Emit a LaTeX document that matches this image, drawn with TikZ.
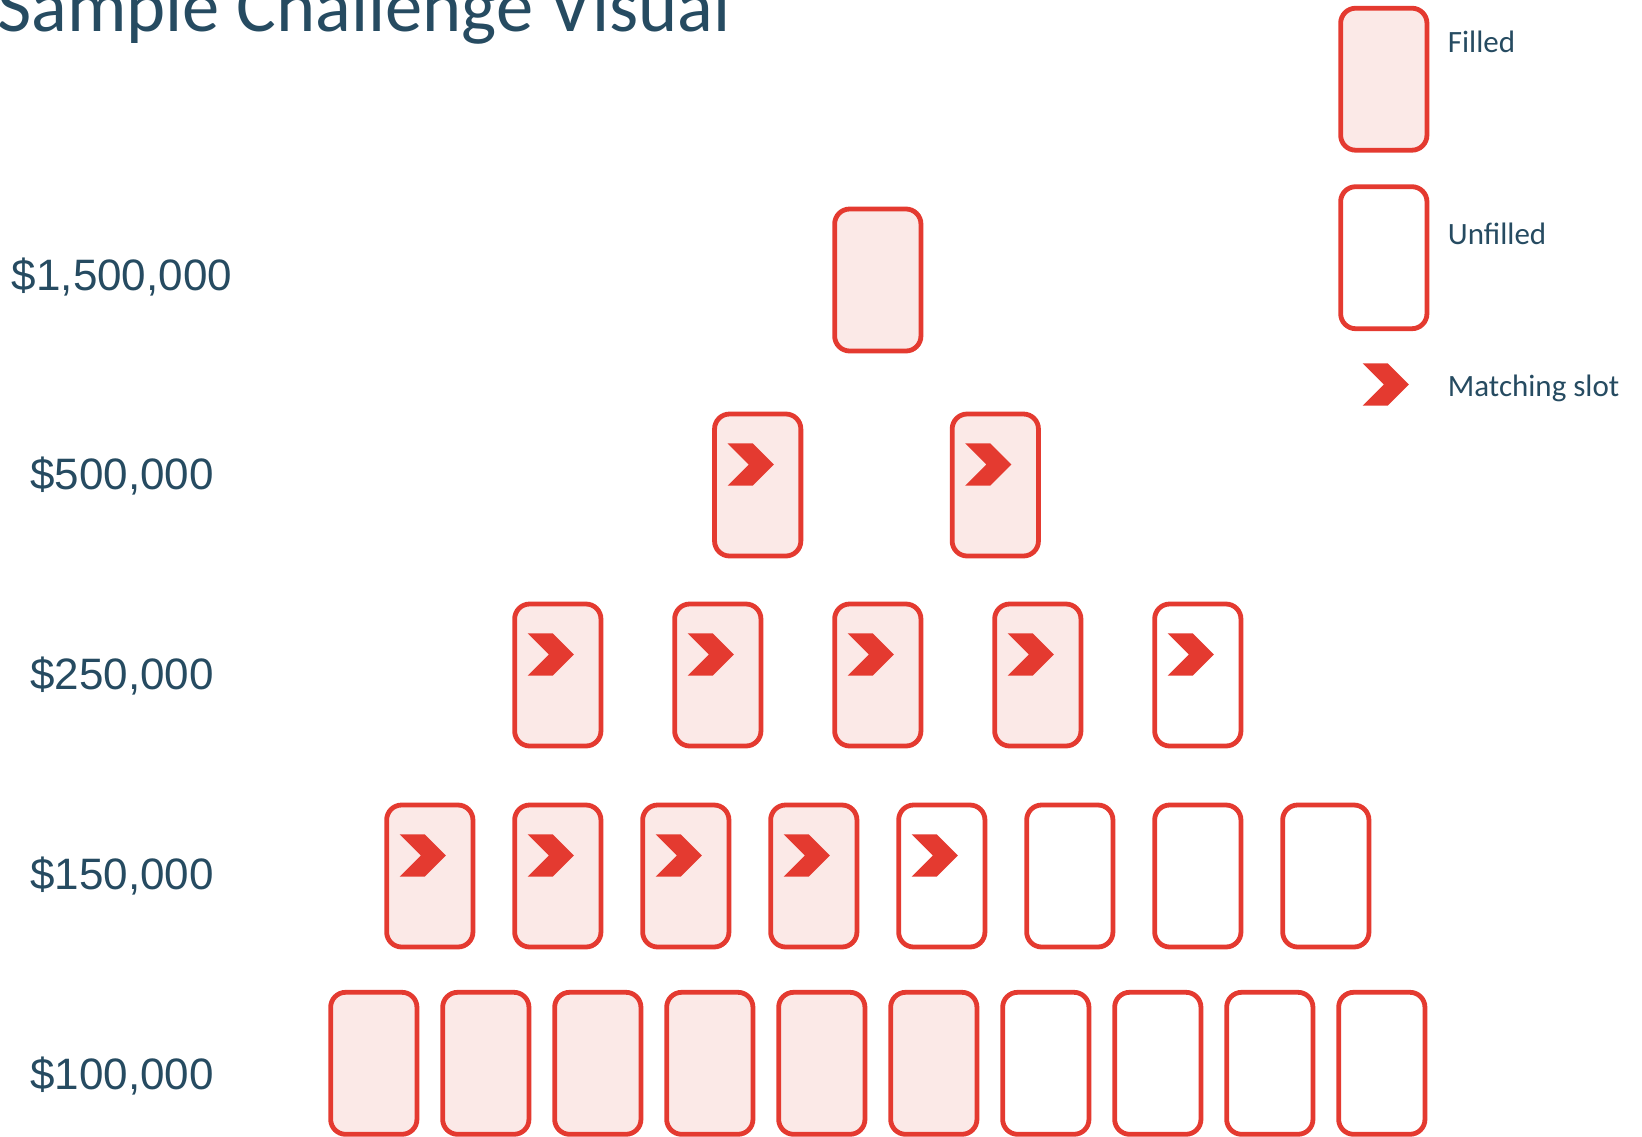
\documentclass[tikz,border=0pt]{standalone}
\usepackage{fontspec}
\setmainfont{Carlito}
\newfontfamily\labelfont{Liberation Sans}
\usetikzlibrary{shapes,positioning}

\definecolor{slotRed}{RGB}{228,58,48}
\definecolor{slotFill}{RGB}{251,233,231}
\definecolor{inkBlue}{RGB}{38,75,97}

\begin{document}
\begin{tikzpicture}[
    x=1pt, y=-1pt,
    font=\fontsize{31}{36}\selectfont,
    cardFilled/.style={
        rectangle, rounded corners=15pt, draw=slotRed, line width=4.8pt,
        fill=slotFill, minimum width=86.3pt, minimum height=142pt,
        inner sep=0pt, outer sep=0pt
    },
    cardEmpty/.style={cardFilled, fill=white},
    matchNode/.style={
        signal, signal from=west, signal to=east, fill=slotRed,
        minimum width=46.3pt, minimum height=42.4pt, inner sep=0pt, outer sep=0pt,
        xshift=-7pt, yshift=20.5pt
    },
    tierLabel/.style={
        anchor=base, text=inkBlue, inner sep=0pt,
        font=\labelfont\fontsize{44}{52}\selectfont
    },
    legendText/.style={anchor=base west, text=inkBlue, inner sep=0pt}
]
\useasboundingbox (0,0) rectangle (1642,1136);

% Title
\node[anchor=base west, inner sep=0pt, text=inkBlue, font=\fontsize{74.5}{80}\selectfont] (title) at (-3,31) {Sample Challenge Visual};

% Tier labels
\node[tierLabel] (lab1500) at (122,290) {\$1,500,000};
\node[tierLabel] (lab500) at (122,489.8) {\$500,000};
\node[tierLabel] (lab250) at (122,689.6) {\$250,000};
\node[tierLabel] (lab150) at (122,889.4) {\$150,000};
\node[tierLabel] (lab100) at (122,1089.2) {\$100,000};

% $1,500,000 tier
\node[cardFilled] (r1500) at (877.8,280) {};

% $500,000 tier
\node[cardFilled] (r500a) at (757.7,485) {};
\node[cardFilled, right=151.3pt of r500a] (r500b) {};
\node[matchNode] (m500a) at (r500a) {};
\node[matchNode] (m500b) at (r500b) {};

% $250,000 tier
\node[cardFilled] (r250a) at (557.8,675) {};
\node[cardFilled, right=73.7pt of r250a] (r250b) {};
\node[cardFilled, right=73.7pt of r250b] (r250c) {};
\node[cardFilled, right=73.7pt of r250c] (r250d) {};
\node[cardEmpty, right=73.7pt of r250d] (r250e) {};
\node[matchNode] (m250a) at (r250a) {};
\node[matchNode] (m250b) at (r250b) {};
\node[matchNode] (m250c) at (r250c) {};
\node[matchNode] (m250d) at (r250d) {};
\node[matchNode] (m250e) at (r250e) {};

% $150,000 tier
\node[cardFilled] (r150a) at (429.8,876) {};
\node[cardFilled, right=41.7pt of r150a] (r150b) {};
\node[cardFilled, right=41.7pt of r150b] (r150c) {};
\node[cardFilled, right=41.7pt of r150c] (r150d) {};
\node[cardEmpty, right=41.7pt of r150d] (r150e) {};
\node[cardEmpty, right=41.7pt of r150e] (r150f) {};
\node[cardEmpty, right=41.7pt of r150f] (r150g) {};
\node[cardEmpty, right=41.7pt of r150g] (r150h) {};
\node[matchNode] (m150a) at (r150a) {};
\node[matchNode] (m150b) at (r150b) {};
\node[matchNode] (m150c) at (r150c) {};
\node[matchNode] (m150d) at (r150d) {};
\node[matchNode] (m150e) at (r150e) {};

% $100,000 tier
\node[cardFilled] (r100a) at (373.8,1063.3) {};
\node[cardFilled, right=25.7pt of r100a] (r100b) {};
\node[cardFilled, right=25.7pt of r100b] (r100c) {};
\node[cardFilled, right=25.7pt of r100c] (r100d) {};
\node[cardFilled, right=25.7pt of r100d] (r100e) {};
\node[cardFilled, right=25.7pt of r100e] (r100f) {};
\node[cardEmpty, right=25.7pt of r100f] (r100g) {};
\node[cardEmpty, right=25.7pt of r100g] (r100h) {};
\node[cardEmpty, right=25.7pt of r100h] (r100i) {};
\node[cardEmpty, right=25.7pt of r100i] (r100j) {};

% Legend
\node[cardFilled] (keyFilled) at (1383.8,79.2) {};
\node[cardEmpty] (keyEmpty) at (1383.8,257.7) {};
\node[matchNode, xshift=9pt, yshift=-20.5pt] (keyMatch) at (1383.8,384.5) {};
\node[legendText] (txtFilled) at (1447.7,52.3) {Filled};
\node[legendText] (txtEmpty) at (1447.7,244.3) {Unfilled};
\node[legendText] (txtMatch) at (1447.7,396.7) {Matching slot};

\end{tikzpicture}
\end{document}
